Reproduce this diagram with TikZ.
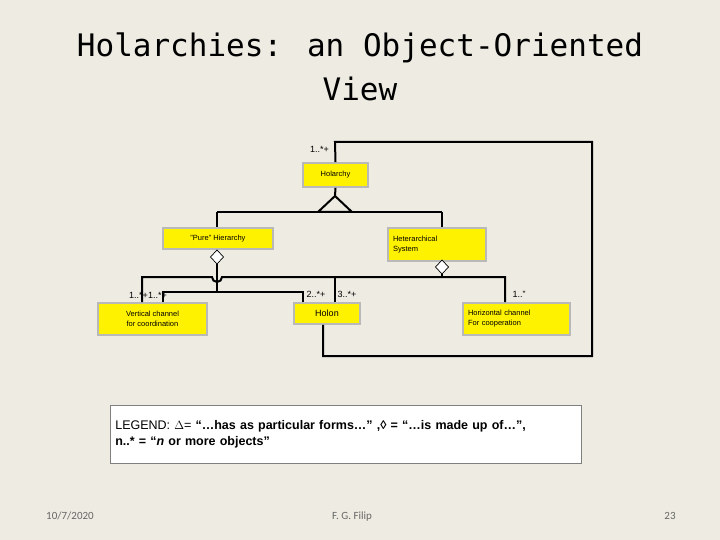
\documentclass[tikz,border=0pt]{standalone}
\usepackage{fontspec}
\setmainfont{Liberation Sans}
\newfontfamily\titlefont{DejaVu Sans Mono}
\newfontfamily\footfont{Carlito}
\begin{document}
\begin{tikzpicture}[x=1pt,y=-1pt,
  box/.style={draw=gray!55,line width=1.8pt,fill=yellow,inner sep=0pt,font=\fontsize{7.5}{10}\selectfont},
  ln/.style={line width=2pt,line join=miter},
  mult/.style={font=\fontsize{9}{10}\selectfont,inner sep=0pt},
  dia/.style={draw,line width=0.7pt,fill=white},
  foot/.style={font=\footfont\fontsize{11}{12}\selectfont,text=gray!80!black,anchor=base}]
\fill[fill={rgb,255:red,238;green,235;blue,226}] (0,0) rectangle (720,540);
\useasboundingbox (0,0) rectangle (720,540);
\node[font=\titlefont\fontsize{31}{44}\selectfont,align=center] (title) at (360,67) {Holarchies: an Object-Oriented\\View};
% boxes
\node[box,minimum width=65pt,minimum height=24pt] (hol) at (335.5,175) {Holarchy};
\node[box,minimum width=110pt,minimum height=21pt] (pure) at (218,238.5) {"Pure" Hierarchy};
\node[box,minimum width=98pt,minimum height=33pt,align=left,text width=88pt] (het) at (437,244.5) {Heterarchical\\System};
\node[box,minimum width=109pt,minimum height=32pt,align=center] (vert) at (152.5,319) {Vertical channel\\for coordination};
\node[box,minimum width=66pt,minimum height=21pt,font=\fontsize{9}{10}\selectfont] (holon) at (327,313.5) {Holon};
\node[box,minimum width=107pt,minimum height=32pt,align=left,text width=97pt] (hor) at (516.5,319) {Horizontal channel\\For cooperation};
% self association
\coordinate (s1) at (335,142); \coordinate (s2) at (592,142);
\coordinate (s3) at (592,356); \coordinate (s4) at (323,356);
\draw[ln] (hol.north) -- (s1) -- (s2) -- (s3) -- (s4) -- (s4 |- holon.south);
\node[mult,anchor=east] (m0) at (329,149) {1..*+};
% generalization
\coordinate (tA) at (335,196); \coordinate (tL) at (318,212); \coordinate (tR) at (352,212);
\draw[ln] (hol.south) -- (tA);
\draw[ln] (tA) -- (tL) -- (tR) -- cycle;
\coordinate (g1) at (217,212); \coordinate (g2) at (442,212);
\draw[ln] (g1) -- (g2);
\draw[ln] (g1) -- (g1 |- pure.north);
\draw[ln] (g2) -- (g2 |- het.north);
% diamonds
\coordinate (d1t) at (217,250); \coordinate (d1b) at (217,264);
\coordinate (d2t) at (442,260); \coordinate (d2b) at (442,274);
\draw[ln] (pure.south -| d1t) -- (d1t);
\draw[ln] (het.south -| d2t) -- (d2t);
\draw[dia] (210.5,257) -- (d1t) -- (223.5,257) -- (d1b) -- cycle;
\draw[dia] (435.5,267) -- (d2t) -- (448.5,267) -- (d2b) -- cycle;
% Pure bus
\coordinate (p1) at (163,292); \coordinate (p2) at (303,292);
\draw[ln] (d1b) -- (217,292);
\draw[ln] (p1 |- vert.north) -- (p1) -- (p2) -- (p2 |- holon.north);
% Het bus with jump
\coordinate (h1) at (142,277); \coordinate (h2) at (505,277); \coordinate (h3) at (335,277);
\draw[ln] (h1 |- vert.north) -- (h1) -- (212,277) arc[start angle=180,end angle=360,radius=5pt] -- (h2) -- (h2 |- hor.north);
\draw[ln] (d2b) -- (442,277);
\draw[ln] (h3) -- (h3 |- holon.north);
% multiplicities
\node[mult] (m1) at (148,295) {1..*+1..*+};
\node[mult] (m2) at (316,294) {2..*+};
\node[mult] (m3) at (347,294) {3..*+};
\node[mult] (m4) at (519,294) {1..''};
% legend
\node[draw=gray,fill=white,line width=0.6pt,minimum width=471pt,minimum height=58pt,anchor=north west,align=left,text width=461pt,font=\fontsize{12.5}{16}\selectfont] (leg) at (110,405) {LEGEND: $\Delta$= \textbf{“…has as particular forms…” ,◊ = “…is made up of…”,}\\\textbf{n..* = “\textit{n} or more objects”}};
% footer
\node[foot] (f1) at (70,519) {10/7/2020};
\node[foot] (f2) at (352,519) {F. G. Filip};
\node[foot] (f3) at (670,519) {23};
\end{tikzpicture}
\end{document}
